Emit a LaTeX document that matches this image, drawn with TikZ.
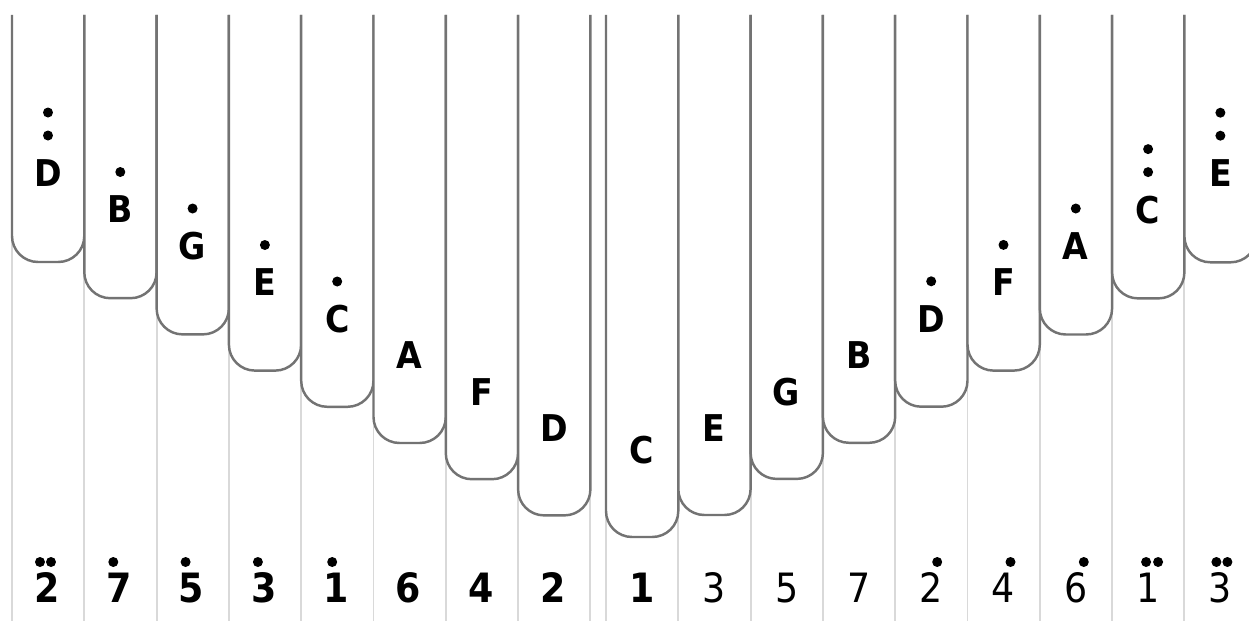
\documentclass[tikz,border=0pt]{standalone}
\usepackage{fontspec}
\setmainfont{DejaVu Sans Condensed}

\tikzset{
  tine/.style={draw=black!55, line width=1.4pt, fill=white, rounded corners=0.52cm},
  groove/.style={draw=black!15, line width=1.1pt},
  notename/.style={inner sep=0pt, font=\bfseries\fontsize{21}{21}\selectfont},
  numname/.style={inner sep=0pt, font=\fontsize{23}{23}\selectfont},
  boldnum/.style={numname, font=\bfseries\fontsize{23}{23}\selectfont}
}

\begin{document}
\begin{tikzpicture}[x=0.02cm,y=-0.02cm]
\useasboundingbox (0,0) rectangle (1249,621);
\clip (0,0) rectangle (1249,621);

% grooves under the tines
\foreach \i in {0,...,8}{
  \draw[groove] ({12+72.3*\i},15) -- ({12+72.3*\i},621);
  \draw[groove] ({606+72.3*\i},15) -- ({606+72.3*\i},621);
}

% tines, left half, middle, right half
\foreach \i in {0,...,7}
  \draw[tine] ({12+72.3*\i},15) -- ({12+72.3*\i},{262+36.2*\i})
     -- ({84.3+72.3*\i},{262+36.2*\i}) -- ({84.3+72.3*\i},15);
\draw[tine] (606,15) -- (606,537) -- (678.3,537) -- (678.3,15);
\foreach \j in {1,...,8}
  \draw[tine] ({606+72.3*\j},15) -- ({606+72.3*\j},{515-36.1*(\j-1)})
     -- ({678.3+72.3*\j},{515-36.1*(\j-1)}) -- ({678.3+72.3*\j},15);

% note letters
\foreach \l [count=\i from 0] in {D,B,G,E,C,A,F,D}
  \node[notename] (l\i) at ({48+72.3*\i},{173+36.5*\i}) {\l};
\node[notename] (c) at (642,450) {C};
\foreach \l [count=\j] in {E,G,B,D,F,A,C,E}
  \node[notename] (r\j) at ({642+72.3*\j},{428-36.4*(\j-1)}) {\l};

% octave dots over the letters
\foreach \n/\k in {l0/1,l0/2,l1/1,l2/1,l3/1,l4/1,r4/1,r5/1,r6/1,r7/1,r7/2,r8/1,r8/2}
  \fill ([yshift={0.75cm+0.46cm*(\k-1)}]\n.center) circle (0.1cm);

% numbers
\foreach \d [count=\i from 0] in {2,7,5,3,1,6,4,2}
  \node[boldnum] (m\i) at ({47+72.3*\i},588) {\d};
\node[boldnum] (mc) at (642,588) {1};
\foreach \d [count=\j] in {3,5,7,2,4,6,1,3}
  \node[numname] (k\j) at ({642+72.3*\j},588) {\d};

\foreach \n/\dx in {m0/-7,m0/4,m1/-6,m2/-6,m3/-6,m4/-4,
                    k4/6,k5/7,k6/8,k7/-2,k7/10,k8/-4,k8/7}
  \fill ([xshift=\dx*0.02cm,yshift=0.52cm]\n.center) circle (0.1cm);
\end{tikzpicture}
\end{document}
